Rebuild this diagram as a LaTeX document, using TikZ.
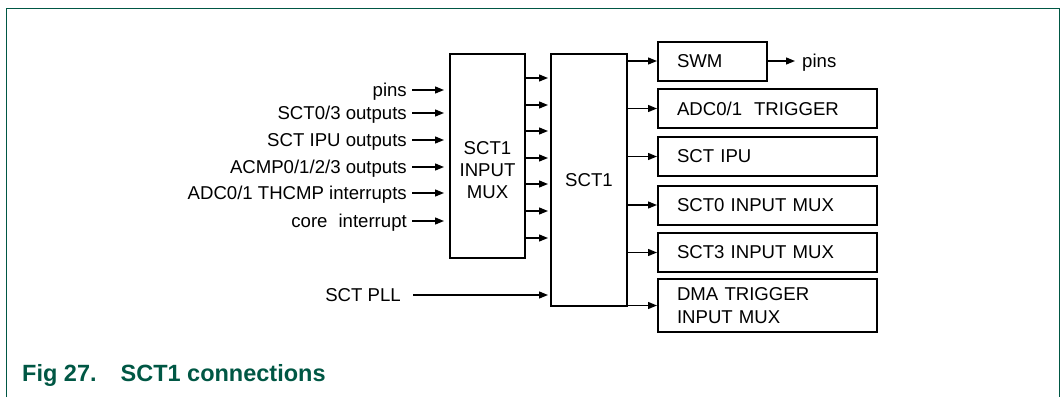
\documentclass[tikz,border=0pt]{standalone}
\usepackage{fontspec}
\setmainfont{Liberation Sans}
\usepackage{xcolor}
\usetikzlibrary{arrows.meta}
\definecolor{nxpgreen}{RGB}{0,87,68}

\begin{document}
\begin{tikzpicture}[x=1pt, y=-1pt,
		blk/.style={draw, line width=2pt, inner sep=0pt},
		outbox/.style={blk, minimum height=39pt, text width=181pt, inner xsep=19pt, align=left},
		lbl/.style={inner sep=0pt, text height=13.3pt, text depth=0pt},
		arr/.style={line width=1.3pt, -{Triangle[length=9pt,width=7pt]}},
		font=\fontsize{18.6}{22.4}\selectfont]
		      		\useasboundingbox (0,0) rectangle (1061,397);
		      		\draw[nxpgreen, line width=1.5pt] (6.5,397) -- (6.5,8.5) -- (1059.5,8.5) -- (1059.5,397);

		      		\node[blk, minimum width=75pt, minimum height=204pt] (mux) at (487.5,156) {};
		      		\node[align=center] (muxtxt) at (487.5,170) {SCT1\\INPUT\\MUX};
		      		\node[blk, minimum width=76pt, minimum height=252pt] (sct) at (589,180) {SCT1};

		      		\node[lbl, anchor=east] (pins) at (407,90) {pins};
		      		\node[lbl, anchor=east] (sctout) at (407,113) {SCT0/3 outputs};
		      		\node[lbl, anchor=east] (ipuout) at (407,140) {SCT IPU outputs};
		      		\node[lbl, anchor=east] (acmp) at (407,167) {ACMP0/1/2/3 outputs};
		      		\node[lbl, anchor=east] (thcmp) at (407,193) {ADC0/1 THCMP interrupts};
		      		\node[lbl, anchor=east] (core) at (407,221) {core\hspace{11pt}interrupt};
		      		\node[lbl, anchor=east] (pll) at (401,295) {SCT PLL};

		      		\draw[arr, shorten <=5pt, shorten >=5pt] (pins.east) -- (pins -| mux.west);
		      		\draw[arr, shorten <=5pt, shorten >=5pt] (sctout.east) -- (sctout -| mux.west);
		      		\draw[arr, shorten <=5pt, shorten >=5pt] (ipuout.east) -- (ipuout -| mux.west);
		      		\draw[arr, shorten <=5pt, shorten >=5pt] (acmp.east) -- (acmp -| mux.west);
		      		\draw[arr, shorten <=5pt, shorten >=5pt] (thcmp.east) -- (thcmp -| mux.west);
		      		\draw[arr, shorten <=5pt, shorten >=5pt] (core.east) -- (core -| mux.west);
		      		\draw[arr, shorten <=12pt, shorten >=2pt] (pll.east) -- (pll -| sct.west);

		      		\draw[arr, shorten >=2pt] (mux.east |- 0,78) -- (sct.west |- 0,78);
		      		\draw[arr, shorten >=2pt] (mux.east |- 0,105) -- (sct.west |- 0,105);
		      		\draw[arr, shorten >=2pt] (mux.east |- 0,131) -- (sct.west |- 0,131);
		      		\draw[arr, shorten >=2pt] (mux.east |- 0,158) -- (sct.west |- 0,158);
		      		\draw[arr, shorten >=2pt] (mux.east |- 0,184) -- (sct.west |- 0,184);
		      		\draw[arr, shorten >=2pt] (mux.east |- 0,211) -- (sct.west |- 0,211);
		      		\draw[arr, shorten >=2pt] (mux.east |- 0,238) -- (sct.west |- 0,238);

		      		\node[outbox, text width=71pt] (swm) at (712.5,61) {SWM};
		      		\node[outbox] (adc) at (767.5,108.5) {ADC0/1\hspace{12pt}TRIGGER};
		      		\node[outbox] (ipu) at (767.5,156.5) {SCT IPU};
		      		\node[outbox] (mux0) at (767.5,205) {SCT0 INPUT MUX};
		      		\node[outbox] (mux3) at (767.5,252.5) {SCT3 INPUT MUX};
		      		\node[outbox, minimum height=53pt] (dma) at (767.5,305.5) {DMA TRIGGER\\INPUT MUX};
		      		\node[lbl, anchor=west] (pinsout) at (802,61) {pins};

		      		\draw[arr] (sct.east |- swm) -- (swm.west);
		      		\draw[arr] (sct.east |- adc) -- (adc.west);
		      		\draw[arr] (sct.east |- ipu) -- (ipu.west);
		      		\draw[arr] (sct.east |- mux0) -- (mux0.west);
		      		\draw[arr] (sct.east |- mux3) -- (mux3.west);
		      		\draw[arr] (sct.east |- dma) -- (dma.west);
		      		\draw[arr, shorten >=7pt] (swm.east) -- (pinsout.west);

		      		\node[anchor=base west, inner sep=0pt, text=nxpgreen, font=\fontsize{23.5}{27}\selectfont\bfseries] (caption) at (22,381) {Fig 27.\hspace{24pt}SCT1 connections};
		      	\end{tikzpicture}
\end{document}
